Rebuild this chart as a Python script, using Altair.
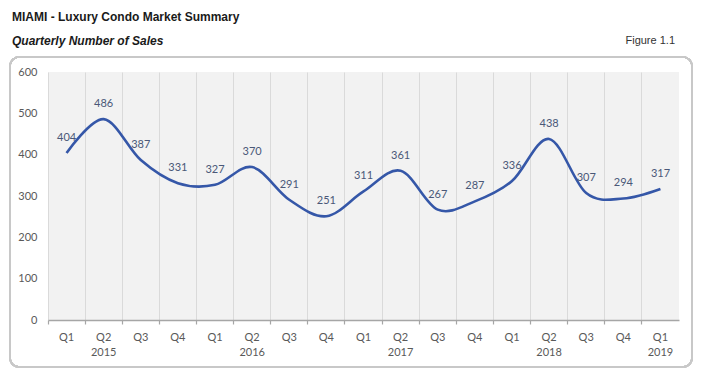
import altair as alt
import pandas as pd

periods = ["2015 Q1", "2015 Q2", "2015 Q3", "2015 Q4",
           "2016 Q1", "2016 Q2", "2016 Q3", "2016 Q4",
           "2017 Q1", "2017 Q2", "2017 Q3", "2017 Q4",
           "2018 Q1", "2018 Q2", "2018 Q3", "2018 Q4",
           "2019 Q1"]
quarters = ["Q1", "Q2", "Q3", "Q4"] * 4 + ["Q1"]
year_labels = ["", "2015", "", "", "", "2016", "", "", "", "2017", "", "", "", "2018", "", "", "2019"]
sales = [404, 486, 387, 331, 327, 370, 291, 251, 311, 361, 267, 287, 336, 438, 307, 294, 317]

df = pd.DataFrame({"period": periods, "quarter": quarters, "year": year_labels, "sales": sales})

W, H = 631, 248
FONT = "Lato"
TFONT = "Liberation Sans"

xenc = alt.X("period:N", sort=periods,
             scale=alt.Scale(type="band", paddingInner=0, paddingOuter=0),
             axis=alt.Axis(title=None, labels=False, bandPosition=0, grid=True,
                           gridColor="#dadada", gridWidth=1, domainColor="#a6a6a6",
                           domainWidth=1.5, tickColor="#a6a6a6", tickSize=4, tickWidth=1.2))
yenc = alt.Y("sales:Q", scale=alt.Scale(domain=[0, 600]),
             axis=alt.Axis(title=None, values=[0, 100, 200, 300, 400, 500, 600], grid=False,
                           domain=False, ticks=False, labelFont=FONT, labelFontSize=11,
                           labelColor="#595959", labelPadding=11))

frame = alt.Chart(df).mark_rect(fill=None, stroke="#c8c8c8", strokeWidth=1.5,
                                cornerRadius=9).encode(
    x=alt.value(-38), x2=alt.value(644), y=alt.value(-15), y2=alt.value(295))

line = alt.Chart(df).mark_line(color="#3557a8", strokeWidth=2.6, interpolate="cardinal").encode(
    x=xenc, y=yenc)

labels = alt.Chart(df).mark_text(font=FONT, fontSize=11, color="#4a5878", dy=-15).encode(
    x=alt.X("period:N", sort=periods), y="sales:Q", text="sales:Q")

qlab = alt.Chart(df).mark_text(font=FONT, fontSize=11, color="#595959", baseline="middle").encode(
    x=alt.X("period:N", sort=periods), y=alt.value(H + 18), text="quarter:N")

ylab = alt.Chart(df).mark_text(font=FONT, fontSize=11, color="#595959", baseline="middle").encode(
    x=alt.X("period:N", sort=periods), y=alt.value(H + 33), text="year:N")

titles = pd.DataFrame({"t": ["MIAMI - Luxury Condo Market Summary"]})
title = alt.Chart(titles).mark_text(font=TFONT, fontSize=12, fontWeight="bold", color="#1a1a1a",
                                    align="left", baseline="middle").encode(
    x=alt.value(-36), y=alt.value(-55), text="t:N")
subs = pd.DataFrame({"t": ["Quarterly Number of Sales"]})
subtitle = alt.Chart(subs).mark_text(font=TFONT, fontSize=12, fontWeight="bold", fontStyle="italic",
                                     color="#1a1a1a", align="left", baseline="middle").encode(
    x=alt.value(-36), y=alt.value(-31), text="t:N")
figs = pd.DataFrame({"t": ["Figure 1.1"]})
fig = alt.Chart(figs).mark_text(font=TFONT, fontSize=11, color="#333333", align="right",
                                baseline="middle").encode(
    x=alt.value(627), y=alt.value(-31), text="t:N")

chart = alt.layer(frame, line, labels, qlab, ylab, title, subtitle, fig).properties(
    width=W, height=H,
    autosize=alt.AutoSizeParams(type="none"),
    padding={"left": 48, "top": 72, "right": 22, "bottom": 56},
    background="white",
).configure_view(stroke=None, fill="#f2f2f2")

chart.save("out.html", embed_options={"renderer": "svg", "actions": False})
